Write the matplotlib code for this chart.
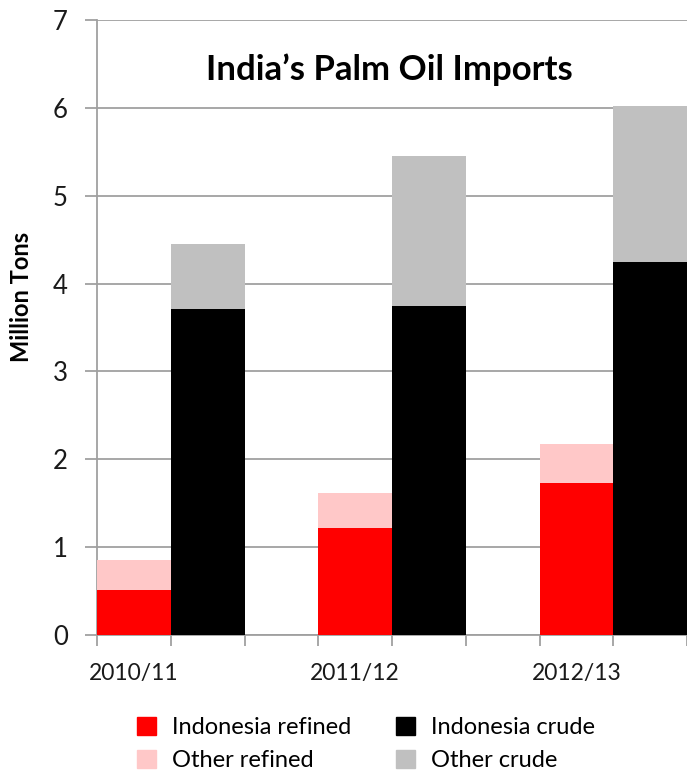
import matplotlib
matplotlib.use('Agg')
from matplotlib import pyplot as plt
from matplotlib.patches import Patch
import numpy as np

plt.rcParams['font.family'] = ['Lato', 'DejaVu Sans']

years = ['2010/11', '2011/12', '2012/13']
indo_refined = [0.51, 1.22, 1.73]
other_refined = [0.34, 0.40, 0.44]
indo_crude = [3.71, 3.74, 4.25]
other_crude = [0.74, 1.71, 1.77]

c_indo_ref = '#ff0000'
c_oth_ref = '#ffc8c8'
c_indo_crude = '#000000'
c_oth_crude = '#c0c0c0'
grid_c = '#a0a0a0'

fig = plt.figure(figsize=(6.87, 7.73), dpi=100)
ax = fig.add_axes([97/687, 1 - 635/773, 1 - 97/687, (635 - 20)/773])

# each year takes 3 slots: refined, crude, empty
pos = np.arange(len(years)) * 3
ax.bar(pos + 0.5, indo_refined, width=1, color=c_indo_ref, zorder=3)
ax.bar(pos + 0.5, other_refined, width=1, bottom=indo_refined, color=c_oth_ref, zorder=3)
ax.bar(pos + 1.5, indo_crude, width=1, color=c_indo_crude, zorder=3)
ax.bar(pos + 1.5, other_crude, width=1, bottom=indo_crude, color=c_oth_crude, zorder=3)

ax.set_xlim(0, (687 - 97)/74)
ax.set_ylim(0, 7)
ax.set_yticks(range(0, 8))
ax.yaxis.grid(True, color=grid_c, linewidth=1.3, zorder=0)
ax.set_axisbelow(True)

ax.set_xticks(pos + 0.5)
ax.set_xticklabels(years)
ax.set_xticks(np.arange(0, 9), minor=True)
ax.tick_params(axis='x', which='major', length=0, pad=20, labelsize=16.5, labelcolor='#1a1a1a')
ax.tick_params(axis='x', which='minor', length=8, width=1.3, color=grid_c)
ax.tick_params(axis='y', length=9, width=1.3, color=grid_c, labelsize=18.5, pad=12, labelcolor='#1a1a1a')

for s in ['top', 'right']:
    ax.spines[s].set_visible(False)
for s in ['left', 'bottom']:
    ax.spines[s].set_color(grid_c)
    ax.spines[s].set_linewidth(1.3)

fig.text(22/687, 1 - 297/773, 'Million Tons', fontsize=17, fontweight='bold',
         rotation=90, ha='center', va='center')

fig.text(389/687, 1 - 70/773, 'India\u2019s Palm Oil Imports', fontsize=25, fontweight='bold',
         ha='center', va='center')

handles = [Patch(color=c_indo_ref), Patch(color=c_oth_ref),
           Patch(color=c_indo_crude), Patch(color=c_oth_crude)]
labels = ['Indonesia refined', 'Other refined', 'Indonesia crude', 'Other crude']
fig.legend(handles, labels, ncol=2, loc='center left', bbox_to_anchor=(116/687, 1 - 744/773),
           frameon=False, fontsize=17, handlelength=0.78, handleheight=0.78,
           handletextpad=0.7, columnspacing=1.9, labelspacing=0.5)

fig.savefig('out.png', dpi=100)
